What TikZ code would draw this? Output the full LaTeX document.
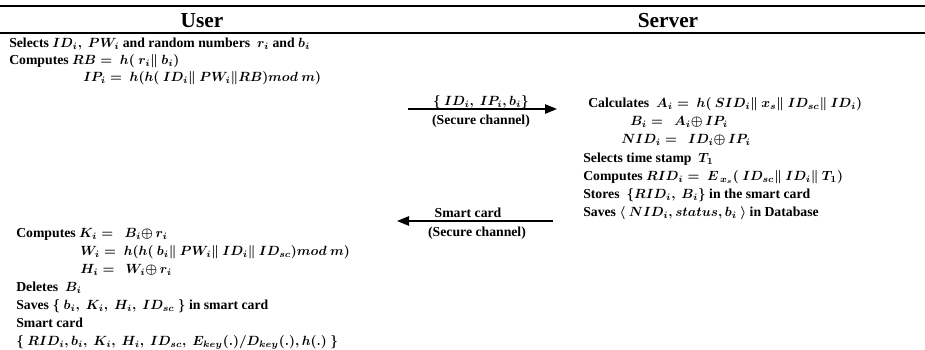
\documentclass[tikz,border=0pt]{standalone}
\usepackage{fontspec}
\setmainfont{Liberation Serif}
\usepackage{amsmath,amssymb}
\usetikzlibrary{arrows.meta}
\begin{document}
\begin{tikzpicture}[x=0.75pt,y=-0.75pt,
  txt/.style={anchor=base west,inner sep=0pt,font=\fontsize{10.3}{12}\selectfont\bfseries\boldmath},
  ctxt/.style={inner sep=0pt,font=\fontsize{10.3}{12}\selectfont\bfseries\boldmath},
  head/.style={inner sep=0pt,font=\fontsize{16}{18}\selectfont\bfseries},
  rule/.style={line width=1.1pt},
  msg/.style={line width=1.2pt,-{Triangle[length=9pt,width=7pt]}}]
\useasboundingbox (0,0) rectangle (925,350);
% header
\coordinate (t1) at (0,6); \coordinate (t2) at (925,6);
\coordinate (b1) at (0,33); \coordinate (b2) at (925,33);
\draw[rule] (t1) -- (t2);
\draw[rule] (b1) -- (b2);
\node[head] (user) at (202,21) {User};
\node[head] (server) at (668,21) {Server};
% user, registration
\node[txt] (u1) at (9,47) {Selects $ID_i,\ PW_i$ and random numbers $\ r_i$ and $b_i$};
\node[txt] (u2) at (9,64) {Computes $RB =\ h(\ r_i\|\ b_i)$};
\node[txt] (u3) at (83,81) {$IP_i =\ h(h(\ ID_i\|\ PW_i\|RB)mod\ m)$};
% message 1
\coordinate (a1s) at (408,109);
\coordinate (a1e) at (557,109);
\draw[msg] (a1s) -- (a1e);
\node[ctxt,anchor=base] (m1a) at (481,105) {$\{\ ID_i,\ IP_i, b_i\}$};
\node[ctxt,anchor=base] (m1b) at (481,124) {(Secure channel)};
% server
\node[txt] (s1) at (588,107) {Calculates $\ A_i =\ h(\ SID_i\|\ x_s\|\ ID_{sc}\|\ ID_i)$};
\node[txt] (s2) at (630,125) {$B_i =\ \ A_i{\oplus}\,IP_i$};
\node[txt] (s3) at (621,143) {$NID_i =\ \ ID_i{\oplus}\,IP_i$};
\node[txt] (s4) at (583,162) {Selects time stamp $\ T_1$};
\node[txt] (s5) at (583,180) {Computes $RID_i =\ E_{\,x_s}(\ ID_{sc}\|\ ID_i\|\ T_1)$};
\node[txt] (s6) at (583,198) {Stores $\ \{RID_i,\ B_i\}$ in the smart card};
\node[txt] (s7) at (583,216) {Saves $\langle\ NID_i, status, b_i\ \rangle$ in Database};
% message 2
\coordinate (a2s) at (553,221);
\coordinate (a2e) at (397,221);
\draw[msg] (a2s) -- (a2e);
\node[ctxt,anchor=base] (m2a) at (468,217) {Smart card};
\node[ctxt,anchor=base] (m2b) at (477,236) {(Secure channel)};
% user, smart card
\node[txt] (l1) at (16,237) {Computes $K_i =\ \ B_i{\oplus}\,r_i$};
\node[txt] (l2) at (80,255) {$W_i =\ h(h(\ b_i\|\ PW_i\|\ ID_i\|\ ID_{sc})mod\ m)$};
\node[txt] (l3) at (80,273) {$H_i =\ \ W_i{\oplus}\,r_i$};
\node[txt] (l4) at (16,291) {Deletes $\ B_i$};
\node[txt] (l5) at (16,309) {Saves $\{\ b_i,\ K_i,\ H_i,\ ID_{sc}\ \}$ in smart card};
\node[txt] (l6) at (16,327) {Smart card};
\node[txt] (l7) at (16,345) {$\{\ RID_i, b_i,\ K_i,\ H_i,\ ID_{sc},\ E_{key}(.)/D_{key}(.), h(.)\ \}$};
\end{tikzpicture}
\end{document}
